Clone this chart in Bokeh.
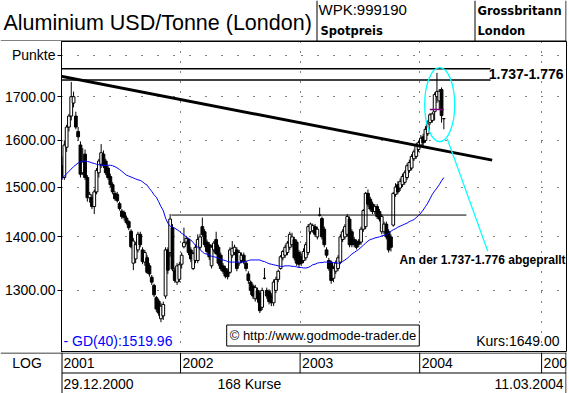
import math
from bokeh.plotting import figure
from bokeh.models import Range1d, FixedTicker, Grid, Label, ColumnDataSource, PrintfTickFormatter
from bokeh.layouts import column
from bokeh.embed import file_html
from bokeh.resources import INLINE
from bokeh.core.properties import value

# ---------------- data: weekly bars 29.12.2000 - 11.03.2004 ----------------
bar_open = [1562,1545,1520,1585,1630,1655,1685,1655,1620,1590,
            1530,1570,1520,1478,1478,1460,1490,1530,1548,1570,
            1555,1540,1522,1505,1487,1485,1466,1451,1448,1437,
            1430,1411,1350,1358,1375,1405,1375,1352,1360,1345,
            1324,1309,1287,1281,1250,1255,1290,1375,1370,1418,
            1337,1315,1320,1348,1381,1390,1395,1375,1340,1355,
            1355,1380,1420,1410,1390,1385,1345,1375,1395,1380,
            1365,1345,1340,1335,1333,1365,1370,1375,1350,1355,
            1365,1350,1330,1315,1308,1285,1300,1295,1270,1322,
            1300,1298,1290,1278,1300,1320,1340,1360,1365,1370,
            1380,1385,1395,1390,1370,1362,1355,1360,1370,1410,
            1412,1420,1400,1443,1436,1415,1375,1355,1352,1322,
            1335,1340,1352,1395,1400,1405,1435,1410,1395,1390,
            1392,1390,1415,1420,1487,1475,1465,1450,1460,1450,
            1410,1410,1425,1410,1400,1423,1485,1505,1498,1505,
            1510,1520,1535,1540,1560,1565,1580,1590,1608,1600,
            1615,1640,1645,1665,1700,1690,1717,1649]
bar_high = [1568,1565,1600,1635,1660,1735,1712,1665,1630,1598,
            1583,1580,1525,1490,1485,1495,1540,1560,1592,1578,
            1560,1545,1528,1510,1492,1490,1470,1455,1452,1442,
            1433,1415,1398,1390,1410,1410,1380,1375,1365,1350,
            1328,1312,1290,1285,1278,1280,1380,1380,1445,1425,
            1342,1350,1352,1370,1418,1402,1398,1380,1372,1385,
            1405,1406,1438,1415,1395,1390,1385,1392,1410,1385,
            1370,1350,1345,1340,1380,1392,1385,1380,1375,1370,
            1370,1355,1335,1318,1312,1310,1305,1300,1305,1341,
            1305,1302,1295,1320,1325,1338,1365,1375,1385,1392,
            1410,1408,1400,1395,1375,1368,1378,1390,1425,1428,
            1426,1425,1420,1458,1440,1420,1380,1360,1355,1345,
            1355,1365,1405,1415,1425,1445,1440,1415,1400,1395,
            1396,1420,1455,1490,1495,1480,1470,1465,1465,1455,
            1445,1430,1430,1415,1405,1490,1508,1512,1518,1528,
            1535,1550,1558,1570,1580,1595,1600,1612,1615,1632,
            1645,1662,1665,1710,1757,1718,1722,1650]
bar_low = [1525,1515,1515,1575,1620,1645,1675,1625,1600,1520,
           1525,1515,1470,1468,1455,1445,1485,1520,1540,1540,
           1525,1515,1500,1485,1472,1468,1452,1435,1432,1424,
           1413,1378,1337,1350,1370,1380,1348,1345,1330,1325,
           1310,1288,1262,1255,1244,1248,1285,1330,1362,1335,
           1314,1310,1315,1340,1378,1385,1365,1352,1337,1350,
           1350,1375,1400,1380,1368,1356,1340,1370,1365,1345,
           1336,1330,1322,1320,1330,1360,1365,1335,1345,1350,
           1348,1335,1312,1292,1285,1280,1278,1260,1265,1320,
           1285,1275,1272,1272,1295,1315,1338,1355,1360,1365,
           1375,1380,1355,1345,1342,1345,1350,1355,1365,1405,
           1408,1400,1395,1440,1395,1380,1360,1336,1312,1315,
           1330,1335,1348,1390,1395,1400,1380,1380,1380,1376,
           1380,1385,1410,1415,1460,1450,1445,1445,1435,1430,
           1405,1405,1395,1370,1372,1420,1480,1485,1492,1500,
           1505,1515,1530,1535,1555,1560,1575,1585,1588,1595,
           1610,1635,1640,1645,1685,1670,1640,1625]
bar_close = [1530,1520,1590,1630,1655,1700,1700,1630,1608,1527,
             1553,1520,1478,1485,1460,1490,1535,1555,1573,1545,
             1530,1520,1505,1490,1476,1472,1456,1440,1438,1428,
             1418,1381,1392,1385,1405,1385,1353,1370,1333,1330,
             1315,1292,1267,1260,1272,1275,1375,1337,1435,1339,
             1318,1345,1347,1365,1389,1397,1370,1358,1368,1380,
             1395,1400,1405,1385,1372,1362,1380,1388,1368,1350,
             1340,1335,1326,1325,1375,1378,1380,1340,1370,1365,
             1352,1340,1318,1300,1290,1305,1285,1264,1300,1322,
             1290,1280,1278,1315,1320,1335,1362,1372,1380,1388,
             1405,1400,1360,1350,1348,1350,1372,1385,1420,1425,
             1422,1405,1415,1443,1400,1385,1365,1340,1318,1340,
             1350,1360,1400,1410,1420,1440,1385,1385,1385,1380,
             1386,1415,1452,1487,1465,1455,1450,1460,1440,1435,
             1440,1425,1400,1375,1380,1487,1500,1490,1512,1522,
             1530,1545,1552,1565,1575,1590,1595,1605,1595,1625,
             1637,1658,1660,1705,1712,1713,1656,1649]
gd40 = [1513,1518,1523,1528,1533,1538,1543,1547,1551,1553,
        1555,1555,1554,1553,1551,1550,1548,1547,1546,1546,
        1546,1546,1546,1545,1543,1540,1537,1533,1529,1525,
        1523,1521,1519,1517,1515,1514,1511,1507,1504,1497,
        1491,1484,1479,1470,1460,1452,1437,1427,1421,1419,
        1417,1414,1411,1407,1404,1400,1397,1394,1389,1384,
        1380,1376,1371,1368,1367,1365,1363,1362,1361,1359,
        1357,1356,1355,1353,1352,1352,1352,1352,1352,1352,
        1352,1353,1355,1356,1356,1356,1356,1356,1354,1353,
        1351,1349,1348,1347,1346,1345,1344,1344,1345,1345,
        1345,1344,1344,1343,1342,1342,1341,1341,1342,1344,
        1347,1348,1350,1351,1351,1352,1352,1352,1351,1351,
        1351,1350,1350,1353,1356,1359,1363,1367,1370,1373,
        1376,1380,1384,1388,1392,1395,1396,1398,1399,1400,
        1402,1403,1404,1407,1411,1414,1416,1419,1421,1423,
        1425,1427,1430,1432,1434,1438,1442,1447,1453,1460,
        1467,1476,1485,1492,1498,1505,1513,1520]
gd_last = 1519.96
kurs_last = 1649.00
price_ticks = [1300, 1400, 1500, 1600, 1700, 1800]
year_labels = ["2001", "2002", "2003", "2004", "2005"]
year_bounds = [52.5, 104.5, 156.5, 209.5]   # bar position where each new year starts
first_date = "29.12.2000"
last_date = "11.03.2004"
resist_levels = [1740, 1767]
resist_span = [0.76, 187.3]
support_level = 1443
support_span = [48.5, 176.8]
trend_x = [0.5, 188.0]
trend_y = [1749, 1557]
marker_level = 1670
marker_span = [160.9, 167.0]

# ---------------- layout (page pixels) ----------------
W = 569
HEAD_H, MAIN_H, FOOT_H = 41, 311, 41
FL, FR, FT, FB = 61, 566, 41, 352       # chart frame edges on the page
PXB = 2.3                               # pixels per weekly bar
X0 = 0.76                               # bar position at the frame's left edge
P_TOP, P_BOT = 1835.0, 1192.9
LT, LB = math.log(P_TOP), math.log(P_BOT)
FONT = "Liberation Sans"

def bx(px):
    return X0 + (px - FL) / PXB

def py(pyy):
    return math.exp(LT - (pyy - FT) * (LT - LB) / (FB - FT))

n = len(bar_close)
idx = list(range(n))

# ---------------- main chart ----------------
p = figure(width=W, height=MAIN_H, x_range=Range1d(X0, bx(FR)),
           y_range=Range1d(P_BOT, P_TOP), y_axis_type="log",
           x_axis_location=None, toolbar_location=None, output_backend="svg",
           min_border_left=FL, min_border_right=W - FR, min_border_top=0, min_border_bottom=0)
p.frame_align = False
p.background_fill_color = "white"
p.border_fill_color = "white"
p.outline_line_color = "black"
p.outline_line_width = 1
p.xgrid.grid_line_color = None
p.ygrid.grid_line_color = None

ax = p.yaxis[0]
ax.ticker = FixedTicker(ticks=price_ticks)
ax.formatter = PrintfTickFormatter(format="%.2f")
ax.major_label_overrides = {1800: "Punkte"}
ax.major_label_text_font = FONT
ax.major_label_text_font_size = "14px"
ax.major_label_text_color = "black"
ax.major_label_standoff = 2
ax.major_tick_out = 4
ax.major_tick_in = 0
ax.minor_tick_line_color = None
ax.axis_line_color = "black"

p.add_layout(Grid(dimension=1, ticker=FixedTicker(ticks=price_ticks),
                  grid_line_color="black", grid_line_dash="1 15", grid_line_width=1))
p.add_layout(Grid(dimension=0, ticker=FixedTicker(ticks=year_bounds),
                  grid_line_color="black", grid_line_dash="1 9", grid_line_width=1))

src = ColumnDataSource(dict(
    i=idx, o=bar_open, h=bar_high, l=bar_low, c=bar_close,
    top=[max(a, b) for a, b in zip(bar_open, bar_close)],
    bot=[min(a, b) for a, b in zip(bar_open, bar_close)],
    fill=["white" if c >= o else "black" for o, c in zip(bar_open, bar_close)],
))
p.segment(x0="i", y0="l", x1="i", y1="h", source=src, line_color="black", line_width=1)
p.vbar(x="i", width=1.2, top="top", bottom="bot", source=src,
       fill_color="fill", line_color="black", line_width=1)

p.line(idx, gd40, line_color="#0000ff", line_width=1)

# analyst lines
for lv in resist_levels:
    p.line(resist_span, [lv, lv], line_color="black", line_width=1.5)
p.line(support_span, [support_level, support_level], line_color="black", line_width=1)
p.line(trend_x, trend_y, line_color="black", line_width=3)
p.line(marker_span, [marker_level, marker_level], line_color="#800080", line_width=1.5)

# cyan ellipse and pointer
p.ellipse(x=[bx(439.2)], y=[py(104.2)], width=30, height=74,
          width_units="screen", height_units="screen",
          fill_color=None, line_color="#00ffff", line_width=1.3)
p.line([bx(446.7), bx(487.3)], [py(138.3), py(250.7)], line_color="#00ffff", line_width=1.2)

p.add_layout(Label(x=bx(563), y=py(73), text="1.737-1.776", text_align="right",
                   text_baseline="middle", text_font=FONT, text_font_style="bold",
                   text_font_size="14px", text_color="black"))
p.add_layout(Label(x=bx(399), y=py(259), text="An der 1.737-1.776 abgeprallt",
                   text_baseline="middle", text_font=FONT, text_font_style="bold",
                   text_font_size="12px", text_color="black"))
p.add_layout(Label(x=bx(63), y=py(340), text="- GD(40):%.2f" % gd_last,
                   text_baseline="middle", text_font=FONT, text_font_size="14px",
                   text_color="#0000ff"))
p.add_layout(Label(x=bx(559), y=py(340), text="Kurs:%.2f" % kurs_last, text_align="right",
                   text_baseline="middle", text_font=FONT, text_font_size="14px",
                   text_color="black"))
p.add_layout(Label(x=bx(322.5), y=py(335), text="\u00a9 http://www.godmode-trader.de",
                   text_align="center", text_baseline="middle", text_font=FONT,
                   text_font_size="13px", text_color="black",
                   border_line_color="black", border_line_width=1,
                   background_fill_color="white", padding=3))

# ---------------- header ----------------
h = figure(width=W, height=HEAD_H, x_range=Range1d(0, FR), y_range=Range1d(HEAD_H, 0),
           x_axis_location=None, y_axis_location=None, toolbar_location=None,
           output_backend="svg", min_border_left=0, min_border_top=0, min_border_bottom=0,
           min_border_right=W - FR)
h.frame_align = False
h.outline_line_color = None
h.xgrid.grid_line_color = None
h.ygrid.grid_line_color = None
h.segment(x0=[0, 316.5, 474.5, FR - 0.5], y0=[40.5, 0, 0, 0],
          x1=[FR, 316.5, 474.5, FR - 0.5], y1=[40.5, 41, 41, 41],
          line_color="black", line_width=1)
h.text(x=[3], y=[22], text=["Aluminium USD/Tonne (London)"], text_font=value(FONT),
       text_font_size="21.5px", text_baseline="middle", text_color="black")
h.text(x=[318], y=[9], text=["WPK:999190"], text_font=value(FONT),
       text_font_size="15px", text_baseline="middle", text_color="black")
h.text(x=[320, 477, 477], y=[30, 10, 30], text=["Spotpreis", "Grossbritann", "London"],
       text_font=value("DejaVu Sans"), text_font_style="bold", text_font_size="11.5px",
       text_baseline="middle", text_color="black")

# ---------------- footer ----------------
fx0 = bx(0)
fx1 = bx(FR)
f = figure(width=W, height=FOOT_H, x_range=Range1d(fx0, fx1), y_range=Range1d(FB + FOOT_H, FB),
           x_axis_location=None, y_axis_location=None, toolbar_location=None,
           output_backend="svg", min_border_left=0, min_border_top=0, min_border_bottom=0,
           min_border_right=W - FR)
f.frame_align = False
f.outline_line_color = None
f.xgrid.grid_line_color = None
f.ygrid.grid_line_color = None
xr = bx(FR - 0.5)
xl = bx(FL + 0.5)
f.segment(x0=[fx0, xl, xl, xr], y0=[FB + 0.5, FB + 20.5, FB, FB],
          x1=[fx1, xr, xl, xr], y1=[FB + 0.5, FB + 20.5, FB + FOOT_H, FB + FOOT_H],
          line_color="black", line_width=1)
f.segment(x0=year_bounds, y0=[FB] * len(year_bounds), x1=year_bounds,
          y1=[FB + 20.5] * len(year_bounds), line_color="black", line_width=1)
f.text(x=[X0 + 2 / PXB] + [b + 2 / PXB for b in year_bounds], y=[FB + 10.5] * len(year_labels),
       text=year_labels, text_font=value(FONT), text_font_size="14px",
       text_baseline="middle", text_color="black")
f.text(x=[bx(26.5)], y=[FB + 10.5], text=["LOG"], text_font=value(FONT), text_font_size="14px",
       text_baseline="middle", text_align="center", text_color="black")
f.text(x=[X0 + 2 / PXB, bx(217)], y=[FB + 31, FB + 31],
       text=[first_date, "%d Kurse" % n], text_font=value(FONT), text_font_size="14px",
       text_baseline="middle", text_color="black")
f.text(x=[bx(563)], y=[FB + 31], text=[last_date], text_font=value(FONT),
       text_font_size="14px", text_baseline="middle", text_align="right", text_color="black")

layout = column(h, p, f, spacing=0)
open("out.html", "w").write(file_html(layout, INLINE))
